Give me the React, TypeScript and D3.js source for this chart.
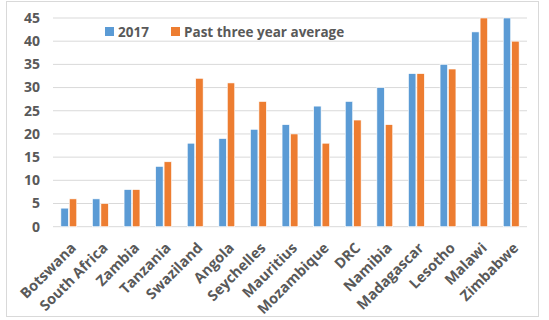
import React from "react";
import * as d3 from "d3";

const categories = [
  "Botswana", "South Africa", "Zambia", "Tanzania", "Swaziland", "Angola",
  "Seychelles", "Mauritius", "Mozambique", "DRC", "Namibia", "Madagascar",
  "Lesotho", "Malawi", "Zimbabwe",
];
const values2017 = [4, 6, 8, 13, 18, 19, 21, 22, 26, 27, 30, 33, 35, 42, 45];
const valuesAvg = [6, 5, 8, 14, 32, 31, 27, 20, 18, 23, 22, 33, 34, 45, 40];
const yTicks = [0, 5, 10, 15, 20, 25, 30, 35, 40, 45];
const seriesNames = ["2017", "Past three year average"];
const colors = ["#5B9BD5", "#ED7D31"];

const W = 549;
const H = 320;
const left = 53;
const right = 527;
const top = 18;
const bottom = 226.7;
const font = "'Open Sans', sans-serif";
const textColor = "#595959";

export default function App() {
  const x = d3.scaleBand<string>().domain(categories).range([left, right]);
  const y = d3.scaleLinear().domain([0, 45]).range([bottom, top]);
  const bw = x.bandwidth();
  const barW = bw * 0.235;
  const series = [values2017, valuesAvg];

  return (
    <svg width={W} height={H} style={{ position: "absolute", left: 0, top: 0 }}>
      <rect x={0} y={0} width={W} height={H} fill="#fff" />
      <rect x={6.5} y={1.5} width={532} height={315} fill="none" stroke="#D9D9D9" strokeWidth={1} />
      {yTicks.map((t) => (
        <g key={t}>
          <line x1={left} x2={right} y1={y(t)} y2={y(t)} stroke="#D9D9D9" strokeWidth={1} />
          <text x={40} y={y(t)} dy="0.35em" textAnchor="end" fontFamily={font} fontWeight="bold" fontSize={14} fill={textColor}>
            {t}
          </text>
        </g>
      ))}
      {categories.map((c, i) => {
        const cx = (x(c) as number) + bw / 2;
        return (
          <g key={c}>
            {series.map((s, k) => (
              <rect
                key={k}
                x={k === 0 ? cx - barW - 0.5 : cx + 0.5}
                y={y(s[i])}
                width={barW}
                height={bottom - y(s[i])}
                fill={colors[k]}
                stroke="#fff"
                strokeWidth={0.6}
              />
            ))}
            <text
              transform={`translate(${cx + 1},${bottom + 15}) rotate(-45)`}
              textAnchor="end"
              dy="0.7em"
              fontFamily={font}
              fontWeight="bold"
              fontSize={14.5}
              fill={textColor}
            >
              {c}
            </text>
          </g>
        );
      })}
      <g>
        <rect x={105} y={27} width={9} height={9} fill={colors[0]} />
        <text x={118} y={36.5} fontFamily={font} fontWeight="bold" fontSize={13.5} fill={textColor}>
          {seriesNames[0]}
        </text>
        <rect x={171} y={27} width={9} height={9} fill={colors[1]} />
        <text x={184} y={36.5} fontFamily={font} fontWeight="bold" fontSize={13.5} fill={textColor}>
          {seriesNames[1]}
        </text>
      </g>
    </svg>
  );
}
